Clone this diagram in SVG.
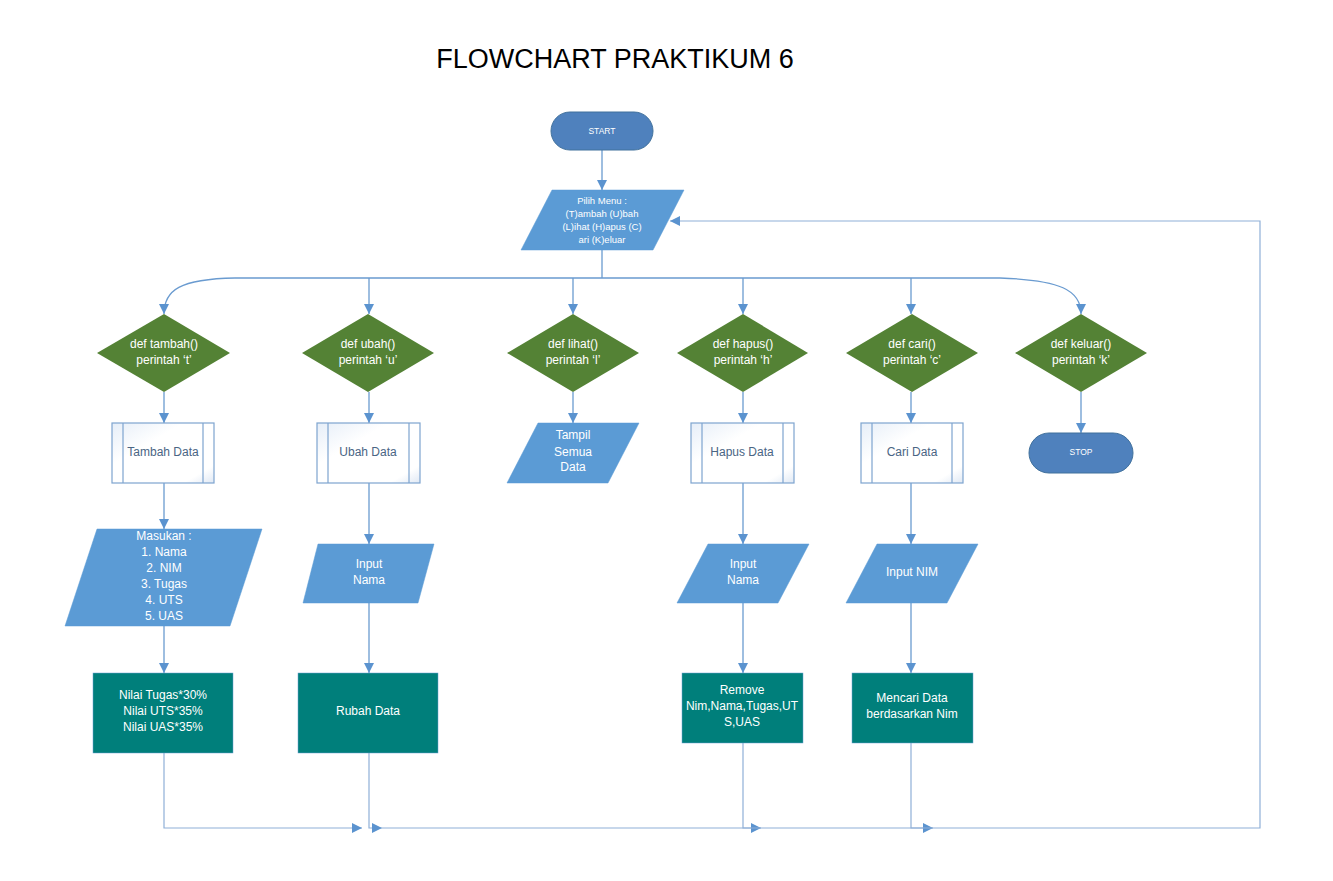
<svg xmlns="http://www.w3.org/2000/svg" width="1333" height="881" viewBox="0 0 1333 881">
<style>
  text { font-family: "Liberation Sans", Arial, sans-serif; text-anchor: middle; }
  .w { fill: #ffffff; font-size: 12px; }
  .s { fill: #ffffff; font-size: 9.5px; }
  .t { fill: #ffffff; font-size: 8.5px; }
  .g { fill: #4a6584; font-size: 12px; }
  .term { fill: #4f81bd; stroke: #41719c; stroke-width: 1; }
  .io { fill: #5b9bd5; stroke: #5b9bd5; stroke-width: 0.5; }
  .dec { fill: #548235; }
  .proc { fill: #007f7b; stroke: #6d9fd3; stroke-width: 0.5; }
  .sub { fill: url(#subg); stroke: #7ea4cf; stroke-width: 1.2; }
  .bar { stroke: #7ea4cf; stroke-width: 1.2; fill: none; }
  .c { fill: none; stroke: #6a9bd0; stroke-width: 1.3; }
  .cl { fill: none; stroke: #8fb0d8; stroke-width: 1.2; }
</style>
<defs>
  <marker id="ah" viewBox="0 0 10 10" refX="10" refY="5" markerWidth="10" markerHeight="10" markerUnits="userSpaceOnUse" orient="auto">
    <path d="M0,0 L10,5 L0,10 Z" fill="#5b93cf"/>
  </marker>
  <linearGradient id="subg" x1="0" y1="0" x2="1" y2="1">
    <stop offset="0" stop-color="#e6eef8"/>
    <stop offset="0.35" stop-color="#ffffff"/>
    <stop offset="0.85" stop-color="#ffffff"/>
    <stop offset="1" stop-color="#dfe8f4"/>
  </linearGradient>
</defs>
<rect width="1333" height="881" fill="#ffffff"/>
<text x="615" y="68" style="font-size:27px;fill:#000000">FLOWCHART PRAKTIKUM 6</text>

<g id="connectors">
  <path class="c" d="M602,150 V190" marker-end="url(#ah)"/>
  <path class="c" d="M602,250 V278"/>
  <path class="c" d="M1000,278 H235 C180,279 164,290 164,314" marker-end="url(#ah)"/>
  <path class="c" d="M1000,278 C1060,280 1081,290 1081,314" marker-end="url(#ah)"/>
  <path class="c" d="M369,278 V314" marker-end="url(#ah)"/>
  <path class="c" d="M573,278 V314" marker-end="url(#ah)"/>
  <path class="c" d="M743,278 V314" marker-end="url(#ah)"/>
  <path class="c" d="M911,278 V314" marker-end="url(#ah)"/>
  <path class="c" d="M164,392 V423" marker-end="url(#ah)"/>
  <path class="c" d="M369,392 V423" marker-end="url(#ah)"/>
  <path class="c" d="M573,392 V423" marker-end="url(#ah)"/>
  <path class="c" d="M743,392 V423" marker-end="url(#ah)"/>
  <path class="c" d="M911,392 V423" marker-end="url(#ah)"/>
  <path class="c" d="M1081,392 V433" marker-end="url(#ah)"/>
  <path class="c" d="M164,483 V529" marker-end="url(#ah)"/>
  <path class="c" d="M369,483 V544" marker-end="url(#ah)"/>
  <path class="c" d="M743,483 V544" marker-end="url(#ah)"/>
  <path class="c" d="M911,483 V544" marker-end="url(#ah)"/>
  <path class="c" d="M164,626 V673" marker-end="url(#ah)"/>
  <path class="c" d="M369,603 V673" marker-end="url(#ah)"/>
  <path class="c" d="M743,603 V673" marker-end="url(#ah)"/>
  <path class="c" d="M911,603 V673" marker-end="url(#ah)"/>
  <path class="cl" d="M164,753 V828 H362" marker-end="url(#ah)"/>
  <path class="cl" d="M369,753 V828 H382" marker-end="url(#ah)"/>
  <path class="cl" d="M743,743 V828 H761" marker-end="url(#ah)"/>
  <path class="cl" d="M911,743 V828 H933" marker-end="url(#ah)"/>
  <path class="cl" d="M382,828 H1260 V221 H670" marker-end="url(#ah)"/>
</g>

<g id="start">
  <rect class="term" x="551" y="112" width="102" height="38" rx="19"/>
  <text class="t" x="602" y="134">START</text>
</g>
<g id="pilih-menu">
  <polygon class="io" points="552,190 684,190 653,250 521,250"/>
  <text class="s" x="602" y="203.5">Pilih Menu :</text>
  <text class="s" x="602" y="216.5">(T)ambah (U)bah</text>
  <text class="s" x="602" y="230">(L)ihat (H)apus (C)</text>
  <text class="s" x="602" y="243">ari (K)eluar</text>
</g>

<g id="dec-tambah">
  <polygon class="dec" points="164,314 230,353 164,392 97,353"/>
  <text class="w" x="164" y="348">def tambah()</text>
  <text class="w" x="164" y="364">perintah ‘t’</text>
</g>
<g id="dec-ubah">
  <polygon class="dec" points="368,314 434,353 368,392 302,353"/>
  <text class="w" x="368" y="348">def ubah()</text>
  <text class="w" x="368" y="364">perintah ‘u’</text>
</g>
<g id="dec-lihat">
  <polygon class="dec" points="573,314 639,353 573,392 507,353"/>
  <text class="w" x="573" y="348">def lihat()</text>
  <text class="w" x="573" y="364">perintah ‘l’</text>
</g>
<g id="dec-hapus">
  <polygon class="dec" points="743,314 808,353 743,392 677,353"/>
  <text class="w" x="743" y="348">def hapus()</text>
  <text class="w" x="743" y="364">perintah ‘h’</text>
</g>
<g id="dec-cari">
  <polygon class="dec" points="912,314 978,353 912,392 846,353"/>
  <text class="w" x="912" y="348">def cari()</text>
  <text class="w" x="912" y="364">perintah ‘c’</text>
</g>
<g id="dec-keluar">
  <polygon class="dec" points="1081,314 1147,353 1081,392 1015,353"/>
  <text class="w" x="1081" y="348">def keluar()</text>
  <text class="w" x="1081" y="364">perintah ‘k’</text>
</g>

<g id="tambah-data">
  <rect class="sub" x="112" y="423" width="102" height="60"/>
  <path class="bar" d="M123,423 V483 M203,423 V483"/>
  <text class="g" x="163" y="456">Tambah Data</text>
</g>
<g id="ubah-data">
  <rect class="sub" x="317" y="423" width="103" height="60"/>
  <path class="bar" d="M328,423 V483 M409,423 V483"/>
  <text class="g" x="368" y="456">Ubah Data</text>
</g>
<g id="tampil">
  <polygon class="io" points="538,423 639,423 608,483 507,483"/>
  <text class="w" x="573" y="439">Tampil</text>
  <text class="w" x="573" y="456">Semua</text>
  <text class="w" x="573" y="471">Data</text>
</g>
<g id="hapus-data">
  <rect class="sub" x="691" y="423" width="103" height="60"/>
  <path class="bar" d="M702,423 V483 M783,423 V483"/>
  <text class="g" x="742" y="456">Hapus Data</text>
</g>
<g id="cari-data">
  <rect class="sub" x="861" y="423" width="102" height="60"/>
  <path class="bar" d="M872,423 V483 M952,423 V483"/>
  <text class="g" x="912" y="456">Cari Data</text>
</g>
<g id="stop">
  <rect class="term" x="1029" y="433" width="104" height="40" rx="20"/>
  <text class="t" x="1081" y="455">STOP</text>
</g>

<g id="masukan">
  <polygon class="io" points="97,529 262,529 230,626 65,626"/>
  <text class="w" x="164" y="540">Masukan :</text>
  <text class="w" x="164" y="556">1. Nama</text>
  <text class="w" x="164" y="572">2. NIM</text>
  <text class="w" x="164" y="588">3. Tugas</text>
  <text class="w" x="164" y="604">4. UTS</text>
  <text class="w" x="164" y="620">5. UAS</text>
</g>
<g id="input-nama-ubah">
  <polygon class="io" points="318,544 434,544 418,603 303,603"/>
  <text class="w" x="369" y="568">Input</text>
  <text class="w" x="369" y="584">Nama</text>
</g>
<g id="input-nama-hapus">
  <polygon class="io" points="708,544 809,544 778,603 677,603"/>
  <text class="w" x="743" y="568">Input</text>
  <text class="w" x="743" y="584">Nama</text>
</g>
<g id="input-nim">
  <polygon class="io" points="877,544 978,544 947,603 846,603"/>
  <text class="w" x="912" y="576">Input NIM</text>
</g>

<g id="nilai">
  <rect class="proc" x="93" y="673" width="140" height="80"/>
  <text class="w" x="163" y="699">Nilai Tugas*30%</text>
  <text class="w" x="163" y="715">Nilai UTS*35%</text>
  <text class="w" x="163" y="731">Nilai UAS*35%</text>
</g>
<g id="rubah-data">
  <rect class="proc" x="298" y="673" width="140" height="80"/>
  <text class="w" x="368" y="715">Rubah Data</text>
</g>
<g id="remove">
  <rect class="proc" x="682" y="673" width="121" height="70"/>
  <text class="w" x="742" y="694">Remove</text>
  <text class="w" x="742" y="710">Nim,Nama,Tugas,UT</text>
  <text class="w" x="742" y="726">S,UAS</text>
</g>
<g id="mencari">
  <rect class="proc" x="852" y="673" width="121" height="70"/>
  <text class="w" x="912" y="702">Mencari Data</text>
  <text class="w" x="912" y="718">berdasarkan Nim</text>
</g>
</svg>
